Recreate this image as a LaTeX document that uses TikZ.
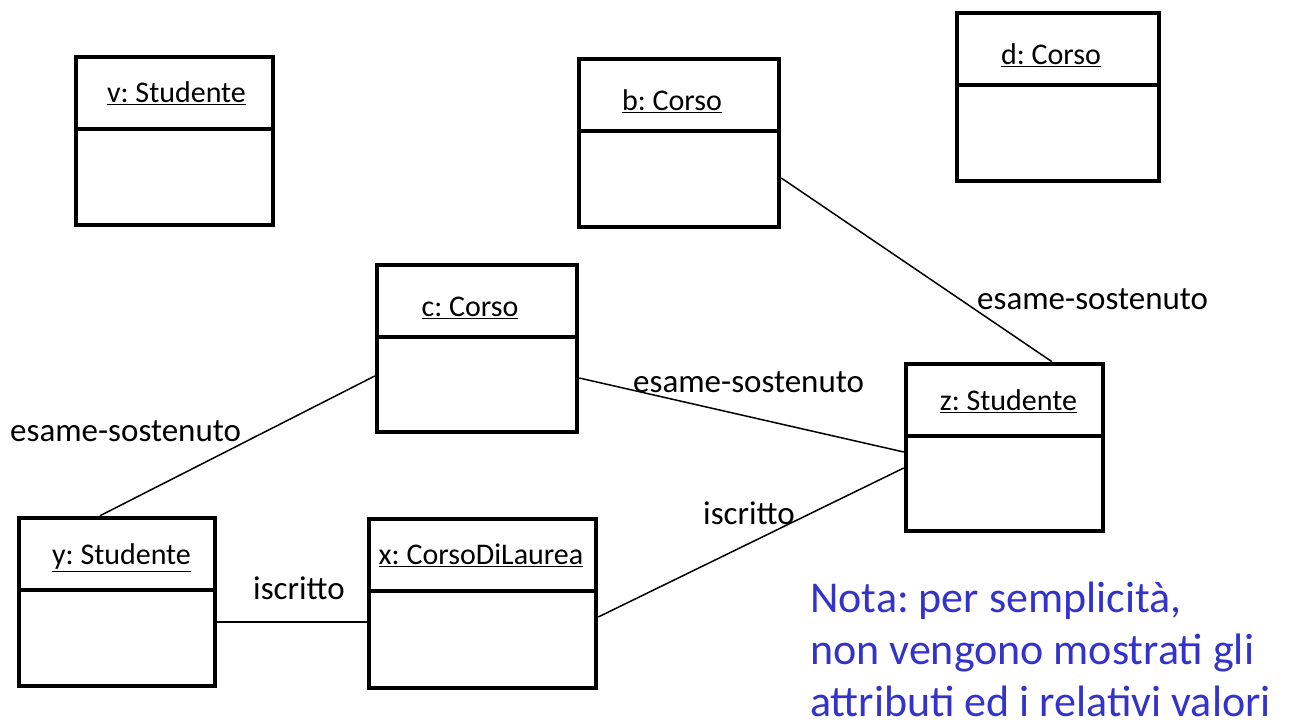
\documentclass[tikz,border=0pt]{standalone}
\usepackage{fontspec}
\setmainfont{Carlito}
\frenchspacing
\definecolor{notablue}{RGB}{51,51,204}
\tikzset{
  objbox/.style={draw=black, line width=4.5pt, inner sep=0pt},
  divider/.style={line width=4pt},
  objtitle/.style={font=\fontsize{30}{35}\selectfont, anchor=base, inner sep=0pt},
  lbl/.style={font=\fontsize{33}{39}\selectfont, anchor=base west, inner sep=0pt},
  link/.style={line width=1.5pt},
  notetext/.style={font=\fontsize{44}{52}\selectfont, text=notablue, align=left, anchor=north west, inner sep=0pt}
}
% name, cx, cy, w, h, title, title dx, title baseline below top
\newcommand{\umlobj}[8]{%
  \node[objbox, minimum width=#4pt, minimum height=#5pt] (#1) at (#2,#3) {};
  \draw[divider] ([yshift=-74pt]#1.north west) -- ([yshift=-74pt]#1.north east);
  \node[objtitle] (#1t) at ([xshift=#7pt, yshift=-#8pt]#1.north) {\underline{#6}};
}
\begin{document}
\begin{tikzpicture}[x=1pt,y=-1pt]
\useasboundingbox (0,0) rectangle (1289,722);
\umlobj{ov}{174.5}{141}{197}{168}{v: Studente}{2}{48}
\umlobj{ob}{679}{143}{200}{168}{b: Corso}{-7}{54}
\umlobj{od}{1058}{97}{202}{168}{d: Corso}{-7}{54}
\umlobj{oc}{477}{348.5}{200}{167}{c: Corso}{-7}{54}
\umlobj{oz}{1004.5}{447.5}{197}{167}{z: Studente}{4}{49}
\umlobj{oy}{117}{602}{196}{168}{y: Studente}{4.5}{49}
\umlobj{ox}{482.5}{603.5}{227}{169}{x: CorsoDiLaurea}{-1.5}{48}

\draw[link] ([yshift=-35pt]ob.east) -- ([xshift=47.5pt]oz.north);
\draw[link] ([yshift=-29.5pt]oc.east) -- ([yshift=-4.5pt]oz.west);
\draw[link] ([yshift=-27.5pt]oc.west) -- ([xshift=-17pt]oy.north);
\draw[link] ([yshift=-13.5pt]ox.east) -- ([yshift=-20.5pt]oz.west);
\draw[link] ([yshift=-20pt]oy.east) -- ([yshift=-18.5pt]ox.west);

\node[lbl] (l1) at (977,309) {esame-sostenuto};
\node[lbl] (l2) at (633,392) {esame-sostenuto};
\node[lbl] (l3) at (10,441) {esame-sostenuto};
\node[lbl] (l4) at (703,524) {iscritto};
\node[lbl] (l5) at (253,599) {iscritto};

\node[notetext] (nota) at (810,582) {Nota: per semplicità,\\non vengono mostrati gli\\attributi ed i relativi valori};
\end{tikzpicture}
\end{document}
